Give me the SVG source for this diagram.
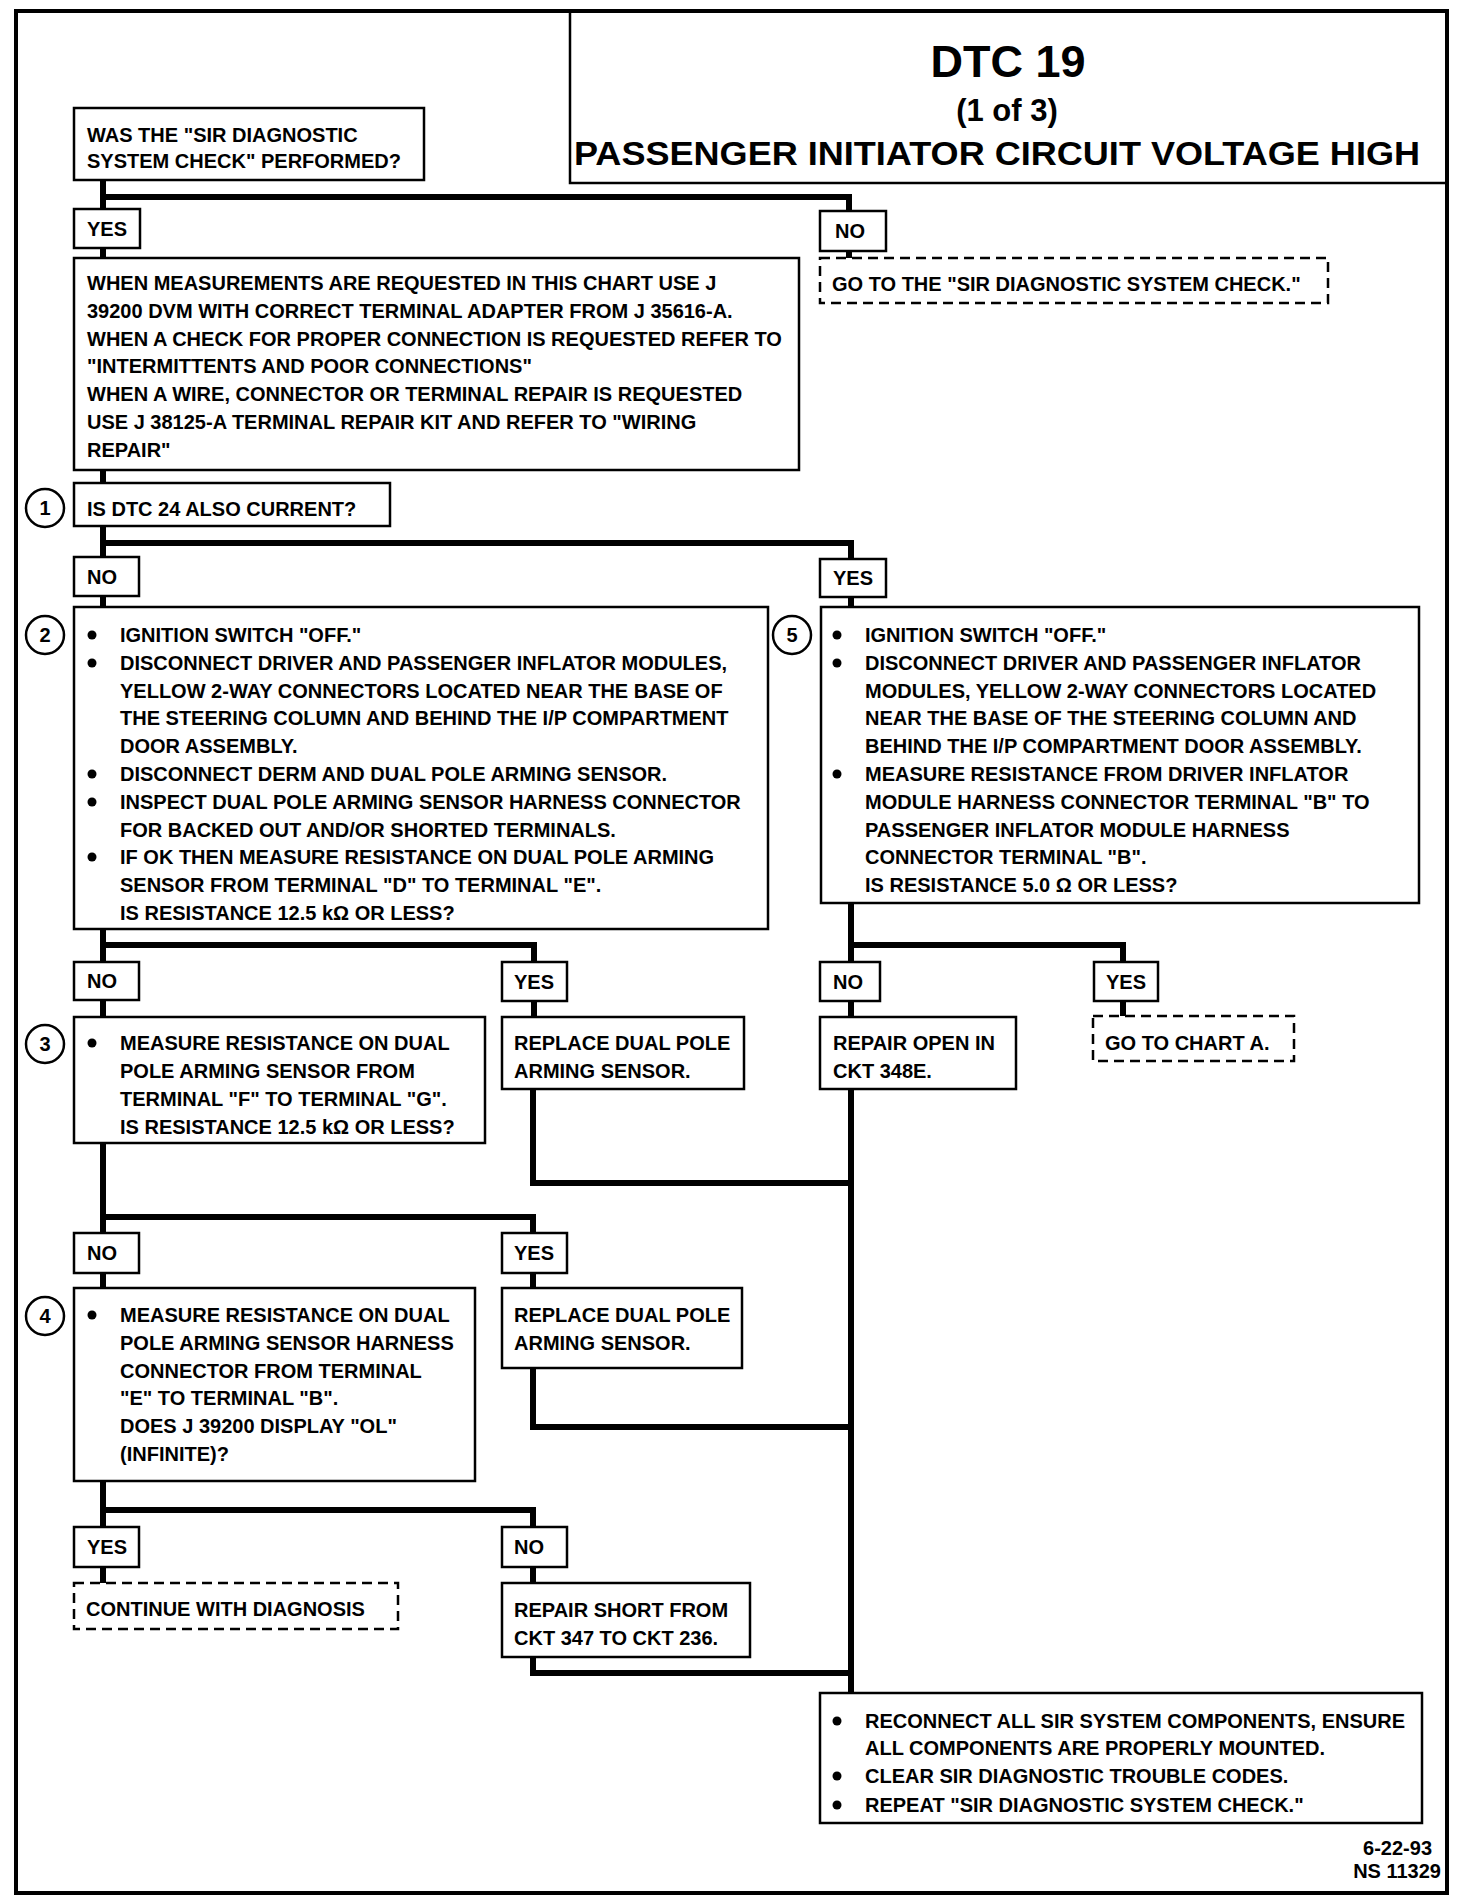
<svg xmlns="http://www.w3.org/2000/svg" width="1472" height="1904" viewBox="0 0 1472 1904">
<style>
.box{fill:#fff;stroke:#000;stroke-width:2.5}
.dash{fill:#fff;stroke:#000;stroke-width:2.5;stroke-dasharray:10 6}
.t{font-family:"Liberation Sans",Arial,sans-serif;font-weight:bold;font-size:20px;fill:#000}
.c{text-anchor:middle}
.conn{fill:none;stroke:#000;stroke-width:6}
.num{fill:#fff;stroke:#000;stroke-width:2.5}
.h1{font-size:45px}
.h2{font-size:31px}
.h3{font-size:33px}
</style>
<rect x="0" y="0" width="1472" height="1904" fill="#fff"/>
<rect id="frame" x="16" y="11" width="1431" height="1882" fill="none" stroke="#000" stroke-width="4"/>
<g id="title">
<rect x="570" y="11" width="877" height="172" fill="none" stroke="#000" stroke-width="2.5"/>
<text class="t c h1" x="1008" y="77">DTC 19</text>
<text class="t c h2" x="1007" y="121">(1 of 3)</text>
<text class="t h3" x="574" y="165" textLength="846" lengthAdjust="spacingAndGlyphs">PASSENGER INITIATOR CIRCUIT VOLTAGE HIGH</text>
</g>
<g id="connectors">
<path class="conn" d="M103,180 V209 M103,197 H849 V211"/>
<path class="conn" d="M103,248 V258 M849,251 V258"/>
<path class="conn" d="M103,470 V483"/>
<path class="conn" d="M103,526 V557 M103,543 H851 V559"/>
<path class="conn" d="M103,596 V607 M851,597 V607"/>
<path class="conn" d="M103,929 V962 M103,945 H534 V962"/>
<path class="conn" d="M851,903 V962 M851,945 H1123 V962"/>
<path class="conn" d="M103,1000 V1017 M534,1001 V1017"/>
<path class="conn" d="M851,1001 V1017 M1123,1001 V1016"/>
<path class="conn" d="M533,1089 V1183 H851 M851,1089 V1693"/>
<path class="conn" d="M103,1143 V1233 M103,1217 H533 V1233"/>
<path class="conn" d="M103,1273 V1288 M533,1273 V1288"/>
<path class="conn" d="M533,1368 V1427 H851"/>
<path class="conn" d="M103,1481 V1527 M103,1510 H533 V1527"/>
<path class="conn" d="M103,1567 V1583 M533,1567 V1583"/>
<path class="conn" d="M533,1657 V1673 H851"/>
</g>
<g id="q0">
<rect class="box" x="74" y="108" width="350" height="72"/>
<text class="t" x="87" y="142">WAS THE "SIR DIAGNOSTIC</text>
<text class="t" x="87" y="168">SYSTEM CHECK" PERFORMED?</text>
</g>
<g id="yes0"><rect class="box" x="74" y="209" width="66" height="39"/><text class="t" x="87" y="236">YES</text></g>
<g id="no0"><rect class="box" x="820" y="211" width="66" height="40"/><text class="t" x="835" y="238">NO</text></g>
<g id="gosir">
<rect class="dash" x="820" y="258" width="508" height="45"/>
<text class="t" x="832" y="291">GO TO THE "SIR DIAGNOSTIC SYSTEM CHECK."</text>
</g>
<g id="notes">
<rect class="box" x="74" y="258" width="725" height="212"/>
<text class="t" x="87" y="290">WHEN MEASUREMENTS ARE REQUESTED IN THIS CHART USE J</text>
<text class="t" x="87" y="318">39200 DVM WITH CORRECT TERMINAL ADAPTER FROM J 35616-A.</text>
<text class="t" x="87" y="346">WHEN A CHECK FOR PROPER CONNECTION IS REQUESTED REFER TO</text>
<text class="t" x="87" y="373">"INTERMITTENTS AND POOR CONNECTIONS"</text>
<text class="t" x="87" y="401">WHEN A WIRE, CONNECTOR OR TERMINAL REPAIR IS REQUESTED</text>
<text class="t" x="87" y="429">USE J 38125-A TERMINAL REPAIR KIT AND REFER TO "WIRING</text>
<text class="t" x="87" y="457">REPAIR"</text>
</g>
<g id="q1">
<circle class="num" cx="45" cy="508" r="19"/><text class="t c" x="45" y="515">1</text>
<rect class="box" x="74" y="483" width="316" height="43"/>
<text class="t" x="87" y="516">IS DTC 24 ALSO CURRENT?</text>
</g>
<g id="no1"><rect class="box" x="74" y="557" width="65" height="39"/><text class="t" x="87" y="584">NO</text></g>
<g id="yes1"><rect class="box" x="820" y="559" width="66" height="38"/><text class="t" x="833" y="585">YES</text></g>
<g id="q2">
<circle class="num" cx="45" cy="635" r="19"/><text class="t c" x="45" y="642">2</text>
<rect class="box" x="74" y="607" width="694" height="322"/>
<circle cx="92" cy="635" r="4.5"/>
<circle cx="92" cy="663" r="4.5"/>
<circle cx="92" cy="774" r="4.5"/>
<circle cx="92" cy="802" r="4.5"/>
<circle cx="92" cy="857" r="4.5"/>
<text class="t" x="120" y="642">IGNITION SWITCH "OFF."</text>
<text class="t" x="120" y="670">DISCONNECT DRIVER AND PASSENGER INFLATOR MODULES,</text>
<text class="t" x="120" y="698">YELLOW 2-WAY CONNECTORS LOCATED NEAR THE BASE OF</text>
<text class="t" x="120" y="725">THE STEERING COLUMN AND BEHIND THE I/P COMPARTMENT</text>
<text class="t" x="120" y="753">DOOR ASSEMBLY.</text>
<text class="t" x="120" y="781">DISCONNECT DERM AND DUAL POLE ARMING SENSOR.</text>
<text class="t" x="120" y="809">INSPECT DUAL POLE ARMING SENSOR HARNESS CONNECTOR</text>
<text class="t" x="120" y="837">FOR BACKED OUT AND/OR SHORTED TERMINALS.</text>
<text class="t" x="120" y="864">IF OK THEN MEASURE RESISTANCE ON DUAL POLE ARMING</text>
<text class="t" x="120" y="892">SENSOR FROM TERMINAL "D" TO TERMINAL "E".</text>
<text class="t" x="120" y="920">IS RESISTANCE 12.5 kΩ OR LESS?</text>
</g>
<g id="q5">
<circle class="num" cx="792" cy="635" r="19"/><text class="t c" x="792" y="642">5</text>
<rect class="box" x="821" y="607" width="598" height="296"/>
<circle cx="837" cy="635" r="4.5"/>
<circle cx="837" cy="663" r="4.5"/>
<circle cx="837" cy="774" r="4.5"/>
<text class="t" x="865" y="642">IGNITION SWITCH "OFF."</text>
<text class="t" x="865" y="670">DISCONNECT DRIVER AND PASSENGER INFLATOR</text>
<text class="t" x="865" y="698">MODULES, YELLOW 2-WAY CONNECTORS LOCATED</text>
<text class="t" x="865" y="725">NEAR THE BASE OF THE STEERING COLUMN AND</text>
<text class="t" x="865" y="753">BEHIND THE I/P COMPARTMENT DOOR ASSEMBLY.</text>
<text class="t" x="865" y="781">MEASURE RESISTANCE FROM DRIVER INFLATOR</text>
<text class="t" x="865" y="809">MODULE HARNESS CONNECTOR TERMINAL "B" TO</text>
<text class="t" x="865" y="837">PASSENGER INFLATOR MODULE HARNESS</text>
<text class="t" x="865" y="864">CONNECTOR TERMINAL "B".</text>
<text class="t" x="865" y="892">IS RESISTANCE 5.0 Ω OR LESS?</text>
</g>
<g id="no2"><rect class="box" x="74" y="962" width="65" height="38"/><text class="t" x="87" y="988">NO</text></g>
<g id="yes2"><rect class="box" x="502" y="962" width="65" height="39"/><text class="t" x="514" y="989">YES</text></g>
<g id="no5"><rect class="box" x="820" y="962" width="60" height="39"/><text class="t" x="833" y="989">NO</text></g>
<g id="yes5"><rect class="box" x="1094" y="962" width="64" height="39"/><text class="t" x="1106" y="989">YES</text></g>
<g id="q3">
<circle class="num" cx="45" cy="1044" r="19"/><text class="t c" x="45" y="1051">3</text>
<rect class="box" x="74" y="1017" width="411" height="126"/>
<circle cx="92" cy="1043" r="4.5"/>
<text class="t" x="120" y="1050">MEASURE RESISTANCE ON DUAL</text>
<text class="t" x="120" y="1078">POLE ARMING SENSOR FROM</text>
<text class="t" x="120" y="1106">TERMINAL "F" TO TERMINAL "G".</text>
<text class="t" x="120" y="1134">IS RESISTANCE 12.5 kΩ OR LESS?</text>
</g>
<g id="replace1">
<rect class="box" x="502" y="1017" width="242" height="72"/>
<text class="t" x="514" y="1050">REPLACE DUAL POLE</text>
<text class="t" x="514" y="1078">ARMING SENSOR.</text>
</g>
<g id="repairopen">
<rect class="box" x="820" y="1017" width="196" height="72"/>
<text class="t" x="833" y="1050">REPAIR OPEN IN</text>
<text class="t" x="833" y="1078">CKT 348E.</text>
</g>
<g id="chartA">
<rect class="dash" x="1093" y="1016" width="201" height="45"/>
<text class="t" x="1105" y="1050">GO TO CHART A.</text>
</g>
<g id="no3"><rect class="box" x="74" y="1233" width="65" height="40"/><text class="t" x="87" y="1260">NO</text></g>
<g id="yes3"><rect class="box" x="502" y="1233" width="65" height="40"/><text class="t" x="514" y="1260">YES</text></g>
<g id="q4">
<circle class="num" cx="45" cy="1316" r="19"/><text class="t c" x="45" y="1323">4</text>
<rect class="box" x="74" y="1288" width="401" height="193"/>
<circle cx="92" cy="1315" r="4.5"/>
<text class="t" x="120" y="1322">MEASURE RESISTANCE ON DUAL</text>
<text class="t" x="120" y="1350">POLE ARMING SENSOR HARNESS</text>
<text class="t" x="120" y="1378">CONNECTOR FROM TERMINAL</text>
<text class="t" x="120" y="1405">"E" TO TERMINAL "B".</text>
<text class="t" x="120" y="1433">DOES J 39200 DISPLAY "OL"</text>
<text class="t" x="120" y="1461">(INFINITE)?</text>
</g>
<g id="replace2">
<rect class="box" x="502" y="1288" width="240" height="80"/>
<text class="t" x="514" y="1322">REPLACE DUAL POLE</text>
<text class="t" x="514" y="1350">ARMING SENSOR.</text>
</g>
<g id="yes4"><rect class="box" x="74" y="1527" width="65" height="40"/><text class="t" x="87" y="1554">YES</text></g>
<g id="no4"><rect class="box" x="502" y="1527" width="65" height="40"/><text class="t" x="514" y="1554">NO</text></g>
<g id="continue">
<rect class="dash" x="74" y="1583" width="324" height="46"/>
<text class="t" x="86" y="1616">CONTINUE WITH DIAGNOSIS</text>
</g>
<g id="repairshort">
<rect class="box" x="502" y="1583" width="248" height="74"/>
<text class="t" x="514" y="1617">REPAIR SHORT FROM</text>
<text class="t" x="514" y="1645">CKT 347 TO CKT 236.</text>
</g>
<g id="final">
<rect class="box" x="820" y="1693" width="602" height="130"/>
<circle cx="837" cy="1721" r="4.5"/>
<circle cx="837" cy="1776" r="4.5"/>
<circle cx="837" cy="1805" r="4.5"/>
<text class="t" x="865" y="1728">RECONNECT ALL SIR SYSTEM COMPONENTS, ENSURE</text>
<text class="t" x="865" y="1755">ALL COMPONENTS ARE PROPERLY MOUNTED.</text>
<text class="t" x="865" y="1783">CLEAR SIR DIAGNOSTIC TROUBLE CODES.</text>
<text class="t" x="865" y="1812">REPEAT "SIR DIAGNOSTIC SYSTEM CHECK."</text>
</g>
<g id="footer">
<text class="t" x="1432" y="1855" text-anchor="end">6-22-93</text>
<text class="t" x="1441" y="1878" text-anchor="end">NS 11329</text>
</g>
</svg>
